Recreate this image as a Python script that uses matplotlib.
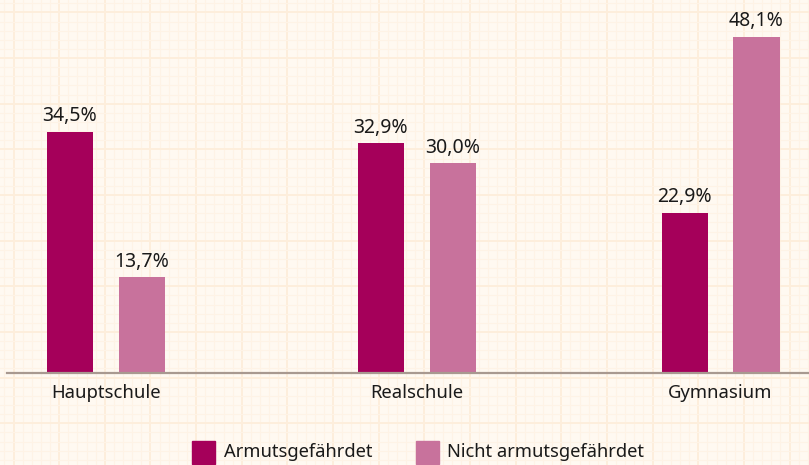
import numpy as np
import matplotlib.pyplot as plt
from matplotlib.patches import Rectangle

# data
schools = ['Hauptschule', 'Realschule', 'Gymnasium']
armut = [34.5, 32.9, 22.9]
nicht_armut = [13.7, 30.0, 48.1]
series_names = ['Armutsgefährdet', 'Nicht armutsgefährdet']

c_dark = '#A5005A'
c_light = '#C8729C'
bg = '#FFF9F1'

plt.rcParams['font.family'] = ['Noto Sans', 'DejaVu Sans']

W, H = 809, 465
fig = plt.figure(figsize=(W / 100, H / 100), dpi=100)
fig.patch.set_facecolor(bg)

# graph paper background
bgax = fig.add_axes([0, 0, 1, 1], zorder=0)
bgax.set_xlim(0, W)
bgax.set_ylim(H, 0)
bgax.axis('off')
step = 9.13
for i, x in enumerate(np.arange(4.4, W, step)):
    thick = (i % 5 == 1)
    bgax.axvline(x, color='#FDEEDC' if thick else '#FEF3E6', lw=1.4 if thick else 0.8)
for i, y in enumerate(np.arange(3.3, H, step)):
    thick = (i % 5 == 1)
    bgax.axhline(y, color='#FDEEDC' if thick else '#FEF3E6', lw=1.4 if thick else 0.8)

# main axes: left edge at 7px, baseline at 373px
ax = fig.add_axes([7 / W, (H - 373) / H, (W - 7) / W, 373 / H], zorder=1)
ax.patch.set_alpha(0)
ax.set_xlim(-0.322, 2.288)
ax.set_ylim(0, 53.4)

x = np.array([0, 1.012, 2])
w = 0.15
off = 0.117
b1 = ax.bar(x - off, armut, w, color=c_dark)
b2 = ax.bar(x + off, nicht_armut, w, color=c_light)

for bars, vals in [(b1, armut), (b2, nicht_armut)]:
    for b, v in zip(bars, vals):
        ax.annotate(f'{v:.1f}%'.replace('.', ','), (b.get_x() + b.get_width() / 2, v),
                    xytext=(0, 4), textcoords='offset points', ha='center', va='bottom',
                    fontsize=14, color='#1a1a1a')

for s in ['top', 'right', 'left']:
    ax.spines[s].set_visible(False)
ax.spines['bottom'].set_color('#A89990')
ax.spines['bottom'].set_linewidth(1.6)
ax.set_yticks([])
ax.set_xticks(x)
ax.set_xticklabels(schools, fontsize=13.3, color='#1a1a1a')
ax.tick_params(axis='x', length=0, pad=8)

# legend
fig.text(224 / W, 1 - 452 / H, series_names[0], fontsize=13.2, va='center', color='#1a1a1a')
fig.text(447 / W, 1 - 452 / H, series_names[1], fontsize=13.2, va='center', color='#1a1a1a')
bgax.add_patch(Rectangle((192, 441), 23, 23, color=c_dark, zorder=5))
bgax.add_patch(Rectangle((416, 441), 23, 23, color=c_light, zorder=5))

fig.savefig('out.png', dpi=100, facecolor=bg)
